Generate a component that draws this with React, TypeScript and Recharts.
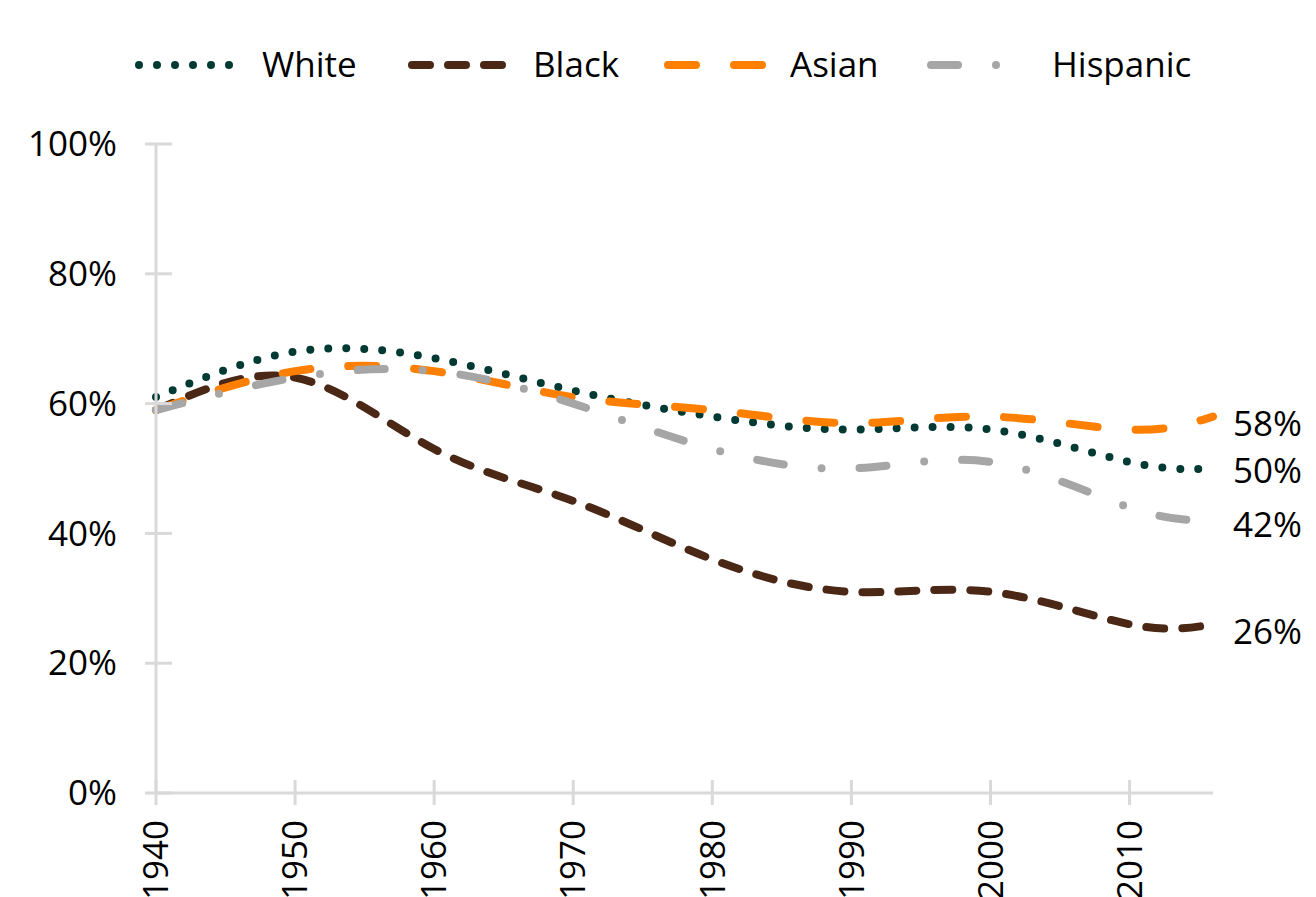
import React from 'react';
import { LineChart, Line, XAxis, YAxis, Legend, LabelList } from 'recharts';

const years = [1940, 1950, 1960, 1970, 1980, 1990, 2000, 2010, 2016];
const white = [61, 68, 67, 62, 58, 56, 56, 51, 50];
const black = [59, 64, 53, 45, 36, 31, 31, 26, 26];
const asian = [59, 65, 65, 61, 59, 57, 58, 56, 58];
const hispanic = [59, 64, 65, 60, 53, 50, 51, 44, 42];

const xTicks = [1940, 1950, 1960, 1970, 1980, 1990, 2000, 2010];
const yTicks = [0, 20, 40, 60, 80, 100];

const FONT = '"Open Sans", "Noto Sans", sans-serif';
const AXIS = '#D9D9D9';

const series = [
  { key: 'white', name: 'White', color: '#003A33', dash: '0 18', labelDy: 2, legendX: 135, textX: 262 },
  { key: 'black', name: 'Black', color: '#4B2816', dash: '18 18', labelDy: 7, legendX: 408, textX: 533 },
  { key: 'asian', name: 'Asian', color: '#FF7F00', dash: '28 38', labelDy: 7, legendX: 664, textX: 790 },
  { key: 'hispanic', name: 'Hispanic', color: '#A6A6A6', dash: '27 38 0 38', labelDy: 4, legendX: 927, textX: 1052 },
];

const data = years.map((year, i) => ({
  year,
  white: white[i],
  black: black[i],
  asian: asian[i],
  hispanic: hispanic[i],
}));

const YTick = (props: any) => {
  const { x, y, payload } = props;
  return (
    <g>
      <line x1={x - 11} x2={x + 16} y1={y} y2={y} stroke={AXIS} strokeWidth={3} />
      <text x={x - 39} y={y} dy="0.35em" textAnchor="end" fontSize={35} fontFamily={FONT} fill="#000">
        {payload.value}%
      </text>
    </g>
  );
};

const XTick = (props: any) => {
  const { x, y, payload } = props;
  const ty = y + 27;
  return (
    <g>
      <line x1={x} x2={x} y1={y - 13} y2={y + 12} stroke={AXIS} strokeWidth={3} />
      <text
        x={x}
        y={ty}
        dy="0.35em"
        textAnchor="end"
        fontSize={35}
        fontFamily={FONT}
        fill="#000"
        transform={`rotate(-90, ${x}, ${ty})`}
      >
        {payload.value}
      </text>
    </g>
  );
};

const makeEndLabel = (dyOff: number) => (props: any) => {
  const { x, y, value, index } = props;
  if (index !== years.length - 1) return null;
  return (
    <text x={x + 20} y={y + dyOff} dy="0.35em" fontSize={35} fontFamily={FONT} fill="#000">
      {value}%
    </text>
  );
};

const LegendContent = () => (
  <svg width={1308} height={100} style={{ display: 'block' }}>
    {series.map((s) => (
      <g key={s.key}>
        <line
          x1={s.legendX - 8 + 4}
          x2={s.legendX - 8 + 104}
          y1={57}
          y2={57}
          stroke={s.color}
          strokeWidth={8}
          strokeDasharray={s.dash}
          strokeLinecap="round"
        />
        <text x={s.textX - 8} y={57} dy="0.35em" fontSize={35} fontFamily={FONT} fill="#000">
          {s.name}
        </text>
      </g>
    ))}
  </svg>
);

export default function App() {
  return (
    <div style={{ width: 1308, height: 889, fontFamily: FONT }}>
      <LineChart
        width={1308}
        height={889}
        data={data}
        margin={{ top: 136, right: 103, bottom: 24, left: 48 }}
      >
        <XAxis
          dataKey="year"
          type="number"
          domain={[1940, 2016]}
          ticks={xTicks}
          interval={0}
          height={80}
          tickSize={0}
          tickMargin={0}
          tickLine={false}
          axisLine={{ stroke: AXIS, strokeWidth: 3 }}
          tick={<XTick />}
        />
        <YAxis
          type="number"
          domain={[0, 100]}
          ticks={yTicks}
          interval={0}
          width={100}
          tickSize={0}
          tickMargin={0}
          tickLine={false}
          axisLine={{ stroke: AXIS, strokeWidth: 3 }}
          tick={<YTick />}
        />
        <Legend
          verticalAlign="middle"
          align="center"
          layout="horizontal"
          wrapperStyle={{ top: 0, left: 0, width: 1308, height: 100 }}
          content={<LegendContent />}
        />
        {series.map((s) => (
          <Line
            key={s.key}
            dataKey={s.key}
            name={s.name}
            type="natural"
            stroke={s.color}
            strokeWidth={8}
            strokeDasharray={s.dash}
            strokeLinecap="round"
            dot={false}
            activeDot={false}
            isAnimationActive={false}
          >
            <LabelList dataKey={s.key} content={makeEndLabel(s.labelDy)} />
          </Line>
        ))}
      </LineChart>
    </div>
  );
}
